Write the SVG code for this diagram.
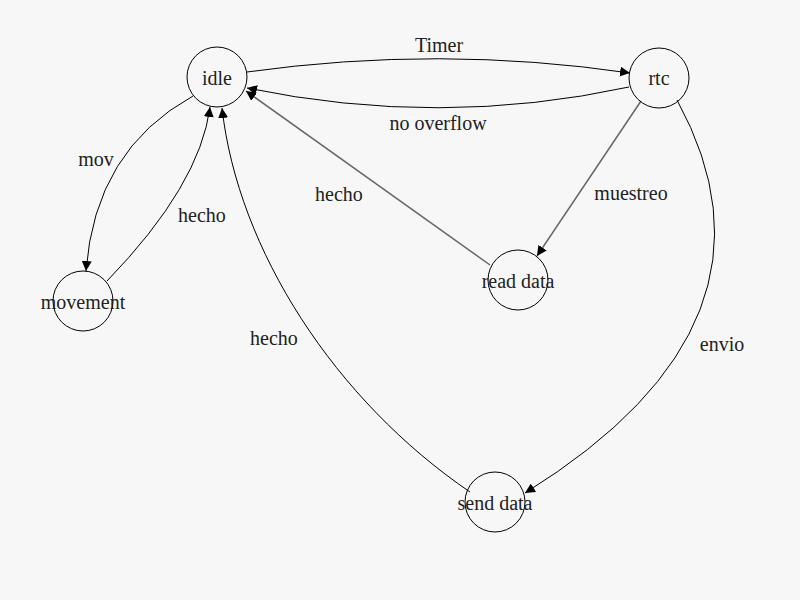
<svg xmlns="http://www.w3.org/2000/svg" width="800" height="600" viewBox="0 0 800 600">
<defs>
<style>
.node circle{fill:none;stroke:#000;stroke-width:1}
text{font-family:'Liberation Serif','DejaVu Serif',serif;font-size:20px;fill:#222;text-anchor:middle;dominant-baseline:central}
.edge{fill:none;stroke:#000;stroke-width:1;marker-end:url(#arr)}
.gray{stroke:#666;stroke-width:1.5}
</style>
<marker id="arr" viewBox="0 0 10 10" refX="10" refY="5" markerWidth="10" markerHeight="10" markerUnits="userSpaceOnUse" orient="auto">
<path d="M0,0 L10,5 L0,10 z" fill="#000"/>
</marker>
</defs>
<rect width="800" height="600" fill="#f7f7f7"/>
<g id="connectors">
<path class="edge" d="M247,72 Q440,45 630,73"/>
<path class="edge" d="M629,87 Q440,128 247,88"/>
<path class="edge" d="M193,96 Q95,150 86,271"/>
<path class="edge" d="M107,281 Q200,185 210,107"/>
<path class="edge" d="M470,492 C335,400 238,250 222,108"/>
<path class="edge gray" d="M490,265 L246,91"/>
<path class="edge gray" d="M641,101 L537,256"/>
<path class="edge" d="M677,100 Q799,323 525,493"/>
<text x="439" y="45">Timer</text>
<text x="438" y="123">no overflow</text>
<text x="96" y="159">mov</text>
<text x="202" y="215">hecho</text>
<text x="339" y="194">hecho</text>
<text x="274" y="338">hecho</text>
<text x="631" y="193">muestreo</text>
<text x="722" y="344">envio</text>
</g>
<g id="idle" class="node"><circle cx="217" cy="77" r="30"/><text x="217" y="78">idle</text></g>
<g id="rtc" class="node"><circle cx="659" cy="78" r="30"/><text x="659" y="78">rtc</text></g>
<g id="movement" class="node"><circle cx="83" cy="301" r="30"/><text x="83" y="302">movement</text></g>
<g id="read-data" class="node"><circle cx="518" cy="280" r="30"/><text x="518" y="281">read data</text></g>
<g id="send-data" class="node"><circle cx="495" cy="502" r="30"/><text x="495" y="503">send data</text></g>
</svg>
